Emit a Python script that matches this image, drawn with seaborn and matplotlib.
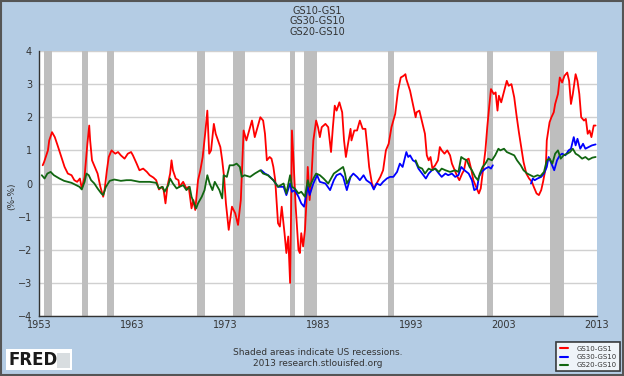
import numpy as np
import pandas as pd
import seaborn as sb
import matplotlib.pyplot as plt
from matplotlib.lines import Line2D
from matplotlib.patches import Rectangle

sb.set_style("white")
plt.rcParams['font.family'] = ['DejaVu Sans']

# GS10-GS1 (red)
gs10_gs1_yr = [1953.4, 1953.55, 1953.96, 1954.1, 1954.4, 1954.7, 1955.0, 1955.4, 1955.75, 1956.1,
               1956.5, 1956.8, 1957.1, 1957.4, 1957.6, 1957.9, 1958.2, 1958.4, 1958.5, 1958.7,
               1959.0, 1959.3, 1959.6, 1959.9, 1960.05, 1960.3, 1960.5, 1960.8, 1961.2, 1961.5,
               1961.8, 1962.2, 1962.55, 1962.9, 1963.1, 1963.5, 1963.8, 1964.2, 1964.6, 1964.9,
               1965.3, 1965.6, 1965.9, 1966.2, 1966.4, 1966.6, 1966.8, 1967.1, 1967.25, 1967.4,
               1967.7, 1968.0, 1968.1, 1968.5, 1968.85, 1969.1, 1969.4, 1969.6, 1969.8, 1969.9,
               1970.1, 1970.35, 1970.6, 1970.9, 1971.1, 1971.3, 1971.5, 1971.8, 1972.0, 1972.25,
               1972.5, 1972.7, 1972.9, 1973.1, 1973.4, 1973.75, 1974.1, 1974.4, 1974.7, 1975.0,
               1975.3, 1975.6, 1975.9, 1976.2, 1976.5, 1976.8, 1977.1, 1977.3, 1977.5, 1977.8,
               1978.0, 1978.2, 1978.4, 1978.7, 1978.9, 1979.1, 1979.4, 1979.6, 1979.8, 1980.0,
               1980.1, 1980.2, 1980.4, 1980.6, 1980.9, 1981.05, 1981.2, 1981.4, 1981.6, 1981.75,
               1981.9, 1982.1, 1982.3, 1982.5, 1982.8, 1983.0, 1983.2, 1983.4, 1983.8, 1984.1,
               1984.4, 1984.6, 1984.8, 1985.0, 1985.3, 1985.6, 1985.8, 1986.0, 1986.2, 1986.5,
               1986.6, 1986.9, 1987.2, 1987.5, 1987.8, 1988.1, 1988.3, 1988.5, 1988.8, 1989.0,
               1989.3, 1989.7, 1990.0, 1990.3, 1990.6, 1990.9, 1991.3, 1991.6, 1991.9, 1992.2,
               1992.4, 1992.5, 1992.9, 1993.2, 1993.5, 1993.6, 1993.9, 1994.2, 1994.5, 1994.7,
               1994.9, 1995.1, 1995.3, 1995.6, 1995.9, 1996.1, 1996.3, 1996.6, 1996.9, 1997.2,
               1997.4, 1997.7, 1998.0, 1998.2, 1998.5, 1998.7, 1998.9, 1999.2, 1999.5, 1999.7,
               2000.0, 2000.3, 2000.5, 2000.7, 2001.0, 2001.2, 2001.4, 2001.6, 2001.9, 2002.1,
               2002.3, 2002.45, 2002.7, 2003.3, 2003.5, 2003.8, 2004.1, 2004.35, 2004.6, 2004.85,
               2005.1, 2005.4, 2005.7, 2006.0, 2006.2, 2006.5, 2006.75, 2007.0, 2007.2, 2007.5,
               2007.6, 2007.9, 2008.1, 2008.35, 2008.5, 2008.8, 2009.0, 2009.25, 2009.5, 2009.8,
               2010.0, 2010.2, 2010.4, 2010.7, 2010.9, 2011.1, 2011.3, 2011.6, 2011.8, 2012.0,
               2012.2, 2012.4, 2012.65, 2012.85]
gs10_gs1 = [0.55, 0.65, 1.0, 1.3, 1.55, 1.4, 1.15, 0.8, 0.5, 0.3,
            0.25, 0.1, 0.05, 0.15, -0.15, 0.2, 1.2, 1.75, 1.3, 0.7,
            0.5, 0.3, -0.1, -0.4, -0.2, 0.4, 0.8, 1.0, 0.9, 0.95,
            0.85, 0.75, 0.9, 0.95, 0.85, 0.6, 0.4, 0.45, 0.35, 0.25,
            0.18, 0.1, -0.18, -0.1, -0.2, -0.6, -0.1, 0.3, 0.7, 0.4,
            0.15, 0.1, -0.1, 0.05, -0.15, -0.1, -0.75, -0.5, -0.8, -0.5,
            0.1, 0.4, 0.8, 1.6, 2.2, 0.9, 1.0, 1.8, 1.5, 1.3,
            1.1, 0.7, 0.2, -0.6, -1.4, -0.7, -0.9, -1.25, -0.5, 1.6,
            1.3, 1.6, 1.9, 1.4, 1.7, 2.0, 1.9, 1.5, 0.7, 0.8,
            0.75, 0.5, 0.1, -1.2, -1.3, -0.7, -1.5, -2.1, -1.6, -3.0,
            -1.0, 1.6, 0.5, -0.7, -2.0, -2.1, -1.5, -1.9, -1.4, -0.6,
            0.5, -0.5, 0.2, 1.3, 1.9, 1.7, 1.4, 1.7, 1.8, 1.7,
            0.95, 1.7, 2.35, 2.2, 2.45, 2.15, 1.3, 0.8, 1.15, 1.65,
            1.3, 1.6, 1.6, 1.9, 1.65, 1.65, 1.1, 0.5, 0.0, -0.15,
            0.0, 0.2, 0.4, 1.0, 1.2, 1.7, 2.1, 2.8, 3.2, 3.25,
            3.3, 3.15, 2.8, 2.4, 2.0, 2.15, 2.2, 1.85, 1.5, 0.85,
            0.7, 0.8, 0.45, 0.55, 0.7, 1.1, 1.0, 0.9, 1.0, 0.85,
            0.6, 0.4, 0.2, 0.1, 0.3, 0.4, 0.7, 0.75, 0.4, 0.1,
            -0.1, -0.3, -0.15, 0.3, 1.0, 1.7, 2.3, 2.85, 2.7, 2.75,
            2.2, 2.65, 2.45, 3.1, 2.95, 3.0, 2.6, 2.05, 1.55, 1.1,
            0.65, 0.3, 0.15, 0.05, -0.1, -0.3, -0.35, -0.2, 0.05, 0.5,
            1.3, 1.85, 2.0, 2.15, 2.4, 2.7, 3.2, 3.05, 3.25, 3.35,
            3.1, 2.4, 2.7, 3.3, 3.1, 2.7, 2.0, 1.9, 1.95, 1.5,
            1.6, 1.4, 1.75, 1.75]

# GS30-GS10 (blue), two pieces (no 30y data 2002-2005)
gs30_a_yr = [1976.9, 1977.3, 1977.65, 1978.2, 1978.7, 1979.3, 1979.6, 1980.0, 1980.2, 1980.5,
             1980.9, 1981.2, 1981.5, 1981.9, 1982.1, 1982.5, 1982.9, 1983.2, 1983.8, 1984.3,
             1984.7, 1985.0, 1985.4, 1985.7, 1986.1, 1986.5, 1986.8, 1987.2, 1987.5, 1987.9,
             1988.2, 1988.7, 1989.0, 1989.3, 1989.7, 1990.0, 1990.4, 1990.75, 1991.1, 1991.5,
             1991.8, 1992.1, 1992.5, 1992.7, 1992.9, 1993.2, 1993.5, 1993.8, 1994.2, 1994.6,
             1994.9, 1995.25, 1995.6, 1996.0, 1996.3, 1996.7, 1997.0, 1997.4, 1997.75, 1998.1,
             1998.4, 1998.75, 1999.2, 1999.55, 1999.8, 2000.1, 2000.3, 2000.6, 2001.0, 2001.35,
             2001.6, 2001.8]
gs30_a = [0.4, 0.3, 0.25, 0.1, -0.1, -0.1, -0.35, 0.0, -0.25, -0.2,
          -0.4, -0.6, -0.7, -0.1, -0.35, 0.0, 0.25, 0.05, 0.0, -0.2,
          0.1, 0.25, 0.3, 0.2, -0.2, 0.2, 0.3, 0.2, 0.1, 0.25,
          0.1, 0.0, -0.18, 0.0, -0.05, 0.05, 0.15, 0.2, 0.2, 0.35,
          0.6, 0.5, 0.95, 0.8, 0.85, 0.7, 0.65, 0.45, 0.3, 0.15,
          0.3, 0.4, 0.45, 0.3, 0.2, 0.3, 0.25, 0.3, 0.2, 0.25,
          0.5, 0.4, 0.3, 0.1, -0.2, -0.15, 0.2, 0.35, 0.45, 0.5,
          0.45, 0.55]
gs30_b_yr = [2005.9, 2006.1, 2006.3, 2006.6, 2007.0, 2007.3, 2007.6, 2007.8, 2008.1, 2008.4,
             2008.7, 2009.0, 2009.25, 2009.6, 2009.95, 2010.2, 2010.5, 2010.7, 2010.9, 2011.2,
             2011.5, 2011.75, 2012.1, 2012.45, 2012.85]
gs30_b = [0.0, 0.15, 0.1, 0.15, 0.2, 0.3, 0.5, 0.8, 0.6, 0.4,
          0.7, 0.85, 0.9, 0.85, 1.0, 1.05, 1.4, 1.15, 1.35, 1.05,
          1.2, 1.05, 1.1, 1.15, 1.18]

# GS20-GS10 (green), two pieces (no 20y data 1987-1993)
gs20_a_yr = [1953.3, 1953.6, 1953.9, 1954.25, 1954.6, 1955.2, 1955.7, 1956.5, 1957.0, 1957.35,
             1957.6, 1957.9, 1958.1, 1958.35, 1958.6, 1958.95, 1959.3, 1959.7, 1959.9, 1960.2,
             1960.6, 1961.1, 1961.8, 1962.4, 1962.9, 1963.8, 1964.9, 1965.6, 1965.9, 1966.3,
             1966.5, 1966.9, 1967.1, 1967.4, 1967.8, 1968.1, 1968.5, 1968.85, 1969.2, 1969.4,
             1969.75, 1969.9, 1970.1, 1970.5, 1970.8, 1971.1, 1971.35, 1971.65, 1971.9, 1972.1,
             1972.4, 1972.7, 1972.85, 1973.2, 1973.5, 1973.9, 1974.25, 1974.6, 1974.8, 1975.1,
             1975.7, 1976.2, 1976.8, 1977.1, 1977.6, 1978.2, 1978.7, 1979.3, 1979.6, 1980.0,
             1980.2, 1980.5, 1980.9, 1981.2, 1981.6, 1981.9, 1982.1, 1982.5, 1982.8, 1983.2,
             1983.6, 1984.1, 1984.7, 1985.2, 1985.7, 1985.9, 1986.1, 1986.5]
gs20_a = [0.25, 0.15, 0.3, 0.35, 0.25, 0.15, 0.08, 0.02, -0.05, -0.1,
          -0.18, 0.05, 0.3, 0.25, 0.1, 0.0, -0.15, -0.3, -0.35, -0.1,
          0.08, 0.12, 0.08, 0.1, 0.1, 0.05, 0.05, 0.02, -0.15, -0.1,
          -0.25, -0.05, 0.15, 0.0, -0.15, -0.1, -0.05, -0.2, -0.1, -0.4,
          -0.65, -0.75, -0.6, -0.4, -0.2, 0.25, 0.0, -0.2, 0.05, -0.05,
          -0.2, -0.45, 0.25, 0.2, 0.55, 0.55, 0.6, 0.5, 0.2, 0.25,
          0.2, 0.3, 0.4, 0.3, 0.25, 0.1, -0.1, 0.0, -0.3, 0.25,
          -0.1, -0.15, -0.3, -0.25, -0.4, 0.1, -0.1, 0.15, 0.3, 0.25,
          0.15, 0.0, 0.3, 0.4, 0.5, 0.3, 0.0, 0.2]
gs20_b_yr = [1993.5, 1993.8, 1994.2, 1994.5, 1994.9, 1995.25, 1995.6, 1996.0, 1996.3, 1996.7,
             1997.2, 1997.75, 1998.1, 1998.4, 1998.65, 1999.0, 1999.3, 1999.55, 1999.9, 2000.2,
             2000.4, 2000.7, 2001.0, 2001.3, 2001.7, 2002.05, 2002.4, 2002.6, 2003.0, 2003.3,
             2003.7, 2004.1, 2004.4, 2004.8, 2005.1, 2005.5, 2005.85, 2006.2, 2006.6, 2006.9,
             2007.3, 2007.6, 2007.9, 2008.2, 2008.5, 2008.8, 2009.1, 2009.4, 2009.8, 2010.1,
             2010.4, 2010.7, 2011.0, 2011.4, 2011.75, 2012.1, 2012.5, 2012.85]
gs20_b = [0.7, 0.5, 0.45, 0.3, 0.45, 0.4, 0.45, 0.35, 0.45, 0.4,
          0.35, 0.4, 0.35, 0.8, 0.75, 0.7, 0.5, 0.4, 0.2, 0.1,
          0.3, 0.5, 0.6, 0.75, 0.7, 0.85, 1.05, 1.0, 1.05, 0.95,
          0.9, 0.85, 0.7, 0.55, 0.4, 0.3, 0.25, 0.2, 0.25, 0.22,
          0.35, 0.7, 0.75, 0.6, 0.9, 1.0, 0.75, 0.85, 0.9, 0.95,
          1.05, 0.9, 0.85, 0.75, 0.8, 0.72, 0.78, 0.8]

# NBER recessions (start, end)
rec_start = [1953.5, 1957.6, 1960.3, 1969.95, 1973.85, 1980.0, 1981.5, 1990.5, 2001.15, 2007.9]
rec_end = [1954.4, 1958.3, 1961.1, 1970.9, 1975.2, 1980.5, 1982.85, 1991.2, 2001.85, 2009.45]

xticks = [1953, 1963, 1973, 1983, 1993, 2003, 2013]
yticks = [-4, -3, -2, -1, 0, 1, 2, 3, 4]

bg = '#B4CCE4'
txt = '#333333'

fig = plt.figure(figsize=(6.24, 3.76), dpi=100)
fig.patch.set_facecolor(bg)
ax = fig.add_axes([39/624, 60/376, 558/624, 265/376])
ax.set_facecolor('white')

#recession shading
for s, e in zip(rec_start, rec_end):
    ax.axvspan(s, e, color='#BEBEBE', lw=0, zorder=1)

#the three spreads
sb.lineplot(x=gs10_gs1_yr, y=gs10_gs1, color='#FF0000', lw=1.3, ax=ax, estimator=None, zorder=3)
for xs, ys in [(gs30_a_yr, gs30_a), (gs30_b_yr, gs30_b)]:
    sb.lineplot(x=xs, y=ys, color='#0000FF', lw=1.3, ax=ax, estimator=None, zorder=4)
for xs, ys in [(gs20_a_yr, gs20_a), (gs20_b_yr, gs20_b)]:
    sb.lineplot(x=xs, y=ys, color='#116611', lw=1.3, ax=ax, estimator=None, zorder=5)

ax.set_xlim(1953, 2013)
ax.set_ylim(-4, 4)
ax.set_xticks(xticks)
ax.set_xticklabels([str(t) for t in xticks])
ax.set_yticks(yticks)
ax.yaxis.grid(True, color='#D0D0D0', lw=1, zorder=0)
ax.set_axisbelow(True)
ax.tick_params(axis='x', direction='in', length=4, width=1, color='#333333',
               labelsize=7, labelcolor=txt, pad=3)
ax.tick_params(axis='y', direction='out', length=3, width=1, color='#333333',
               labelsize=7, labelcolor=txt, pad=2)
for sp in ['top', 'right']:
    ax.spines[sp].set_visible(False)
for sp in ['left', 'bottom']:
    ax.spines[sp].set_color('#333333')
    ax.spines[sp].set_linewidth(1)
ax.set_ylabel('(%-%)', fontsize=6.5, color=txt)
ax.yaxis.set_label_coords(-0.041, 0.45)

#titles
for i, t in enumerate(['GS10-GS1', 'GS30-GS10', 'GS20-GS10']):
    fig.text(0.508, 0.972 - i*0.028, t, ha='center', va='center', fontsize=7, color=txt)

fig.text(0.51, 0.063, 'Shaded areas indicate US recessions.', ha='center', va='center',
         fontsize=6.5, color=txt)
fig.text(0.51, 0.034, '2013 research.stlouisfed.org', ha='center', va='center',
         fontsize=6.5, color=txt)

#FRED logo
fig.patches.append(Rectangle((6/624, 6/376), 66/624, 21/376, transform=fig.transFigure,
                             facecolor='white', edgecolor='none'))
fig.patches.append(Rectangle((57/624, 8/376), 13/624, 15/376, transform=fig.transFigure,
                             facecolor='#D8DDE0', edgecolor='none'))
fig.text(8/624, 16/376, 'FRED', ha='left', va='center', fontsize=12, fontweight='bold',
         color='#1A1A1A')

#legend
handles = [Line2D([], [], color='#FF0000', lw=1.5),
           Line2D([], [], color='#0000FF', lw=1.5),
           Line2D([], [], color='#116611', lw=1.5)]
leg = fig.legend(handles, ['GS10-GS1', 'GS30-GS10', 'GS20-GS10'], loc='lower right',
                 bbox_to_anchor=(0.994, 0.012), fontsize=5, frameon=True, fancybox=False,
                 edgecolor='#111111', handlelength=1.2, labelspacing=0.3,
                 borderpad=0.5, handletextpad=1.2, borderaxespad=0)
leg.get_frame().set_linewidth(1.2)
for t in leg.get_texts():
    t.set_color(txt)

#outer border
fig.patches.append(Rectangle((0.001, 0.002), 0.997, 0.995, transform=fig.transFigure,
                             facecolor='none', edgecolor='#555555', lw=1.5))

plt.savefig('out.png', dpi=100, facecolor=bg)
